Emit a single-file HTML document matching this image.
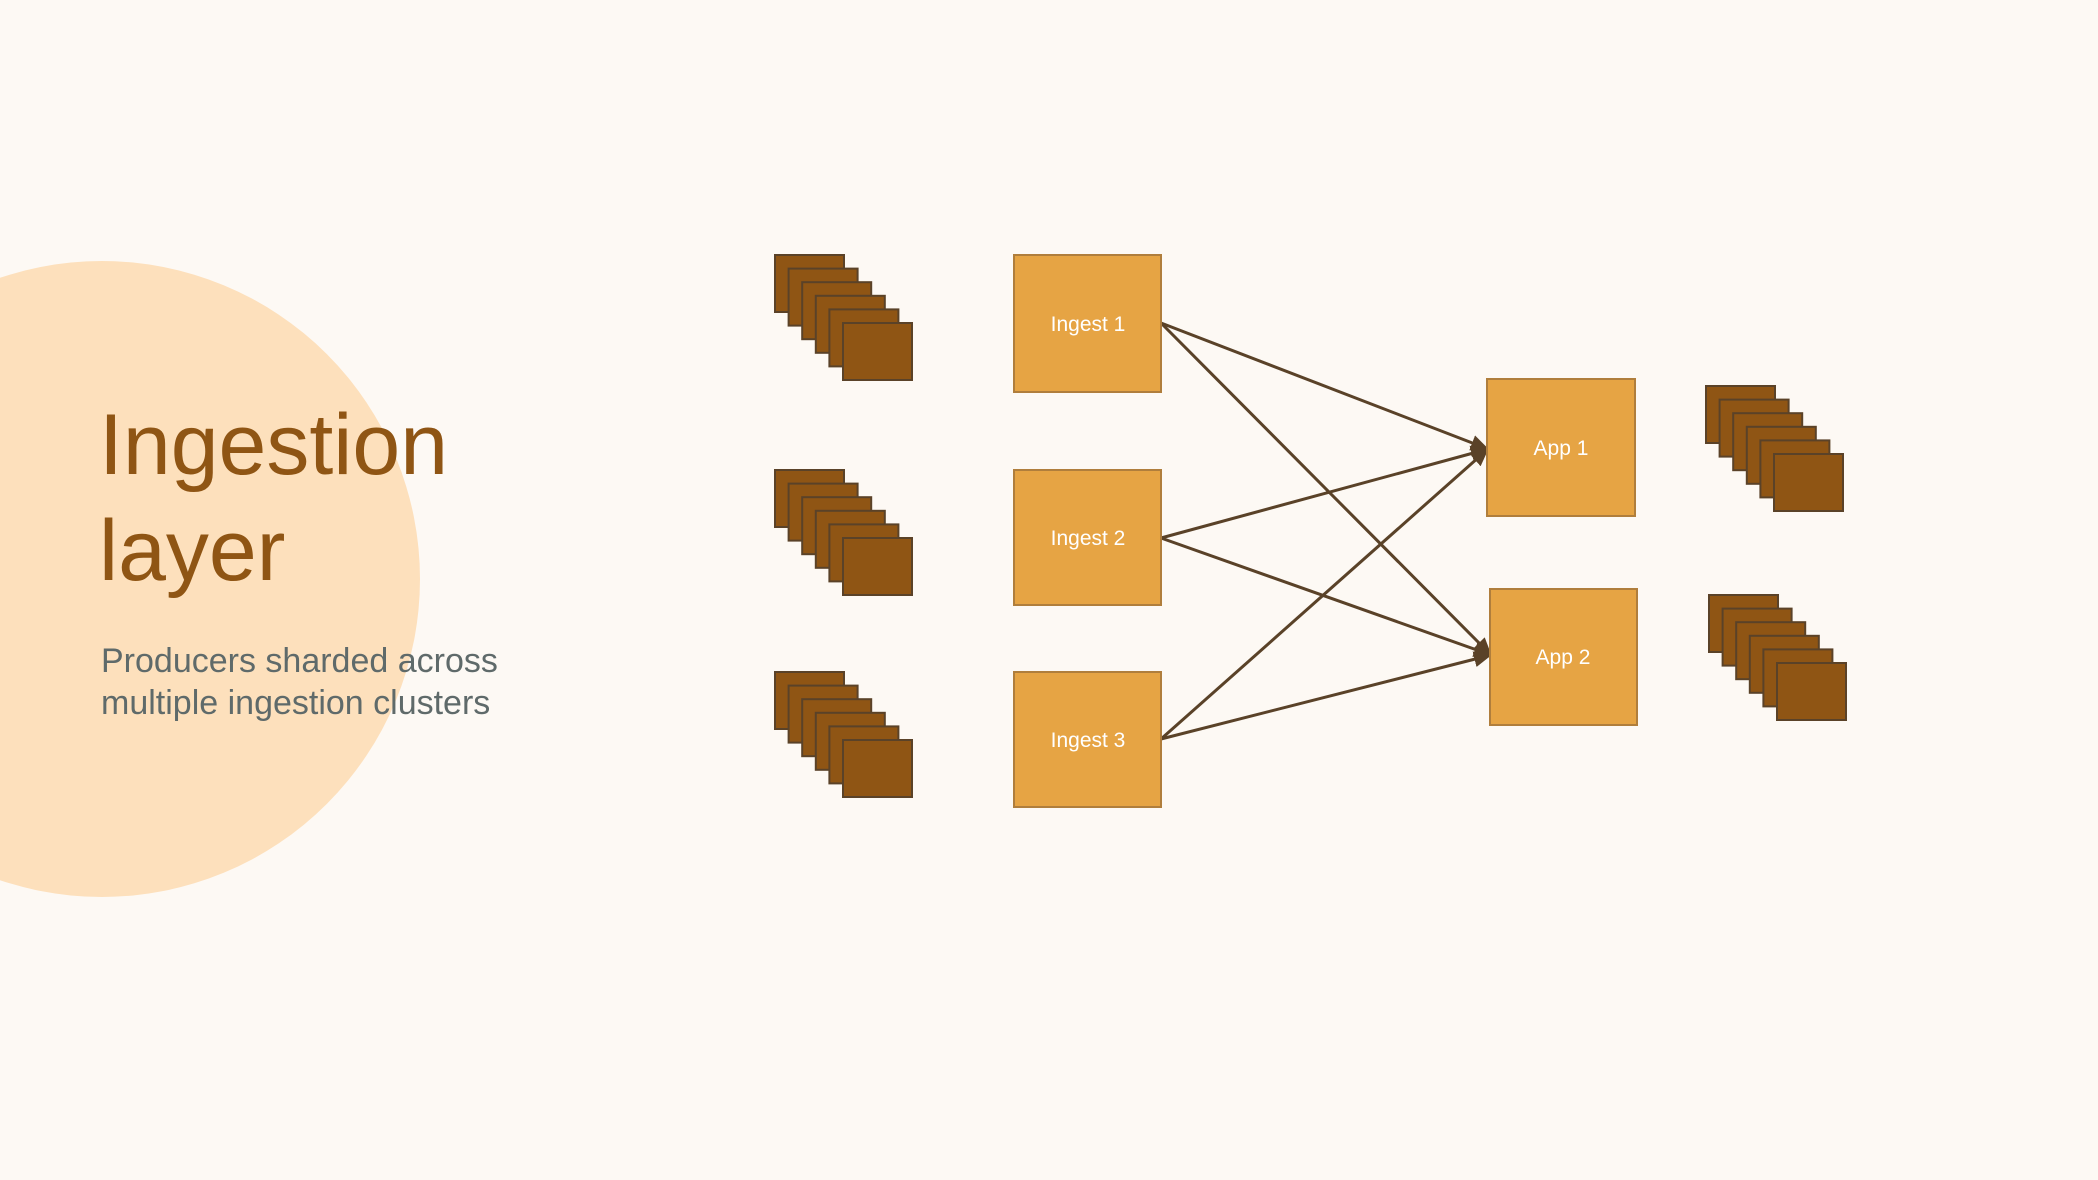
<!DOCTYPE html>
<html><head><meta charset="utf-8"><style>
html,body{margin:0;padding:0;background:#fdf9f4;}
body{width:2098px;height:1180px;overflow:hidden;position:relative;font-family:"Liberation Sans",sans-serif;}
</style></head><body>
<svg width="2098" height="1180" viewBox="0 0 2098 1180" xmlns="http://www.w3.org/2000/svg" style="position:absolute;left:0;top:0">
<rect width="2098" height="1180" fill="#fdf9f4"/>
<circle cx="102" cy="579" r="318" fill="#fde0bc"/>
<text x="99" y="474" font-family="Liberation Sans, sans-serif" font-size="86" fill="#8f5514">Ingestion</text>
<text x="99" y="580" font-family="Liberation Sans, sans-serif" font-size="86" fill="#8f5514">layer</text>
<text x="101" y="672" font-family="Liberation Sans, sans-serif" font-size="34" fill="#5f6a6a">Producers sharded across</text>
<text x="101" y="714" font-family="Liberation Sans, sans-serif" font-size="34" fill="#5f6a6a">multiple ingestion clusters</text>
<defs>
<marker id="ah" markerWidth="18" markerHeight="16" refX="17" refY="8" orient="auto" markerUnits="userSpaceOnUse" viewBox="0 0 18 16">
<path d="M0,0 L18,8 L0,16 z" fill="#5a4228"/>
</marker>
<g id="stk" fill="#8f5514" stroke="#5a4228" stroke-width="2">
<rect x="0" y="0" width="69" height="57"/>
<rect x="13.6" y="13.6" width="69" height="57"/>
<rect x="27.2" y="27.2" width="69" height="57"/>
<rect x="40.8" y="40.8" width="69" height="57"/>
<rect x="54.4" y="54.4" width="69" height="57"/>
<rect x="68" y="68" width="69" height="57"/>
</g>
</defs>
<use href="#stk" x="775" y="255"/>
<use href="#stk" x="775" y="470"/>
<use href="#stk" x="775" y="672"/>
<use href="#stk" x="1706" y="386"/>
<use href="#stk" x="1709" y="595"/>
<g stroke="#5a4228" stroke-width="3" marker-end="url(#ah)">
<line x1="1161" y1="323" x2="1488" y2="449"/>
<line x1="1161" y1="323" x2="1491" y2="655"/>
<line x1="1161" y1="538" x2="1488" y2="449"/>
<line x1="1161" y1="538" x2="1491" y2="655"/>
<line x1="1161" y1="739" x2="1488" y2="449"/>
<line x1="1161" y1="739" x2="1491" y2="655"/>
</g>
<g fill="#e6a444" stroke="#b07e3c" stroke-width="2">
<rect x="1014" y="255" width="147" height="137"/>
<rect x="1014" y="470" width="147" height="135"/>
<rect x="1014" y="672" width="147" height="135"/>
<rect x="1487" y="379" width="148" height="137"/>
<rect x="1490" y="589" width="147" height="136"/>
</g>
<g fill="#ffffff" font-family="Liberation Sans, sans-serif" font-size="21" text-anchor="middle">
<text x="1088" y="331">Ingest 1</text>
<text x="1088" y="545">Ingest 2</text>
<text x="1088" y="747">Ingest 3</text>
<text x="1561" y="455">App 1</text>
<text x="1563" y="664">App 2</text>
</g>
</svg>
</body></html>
